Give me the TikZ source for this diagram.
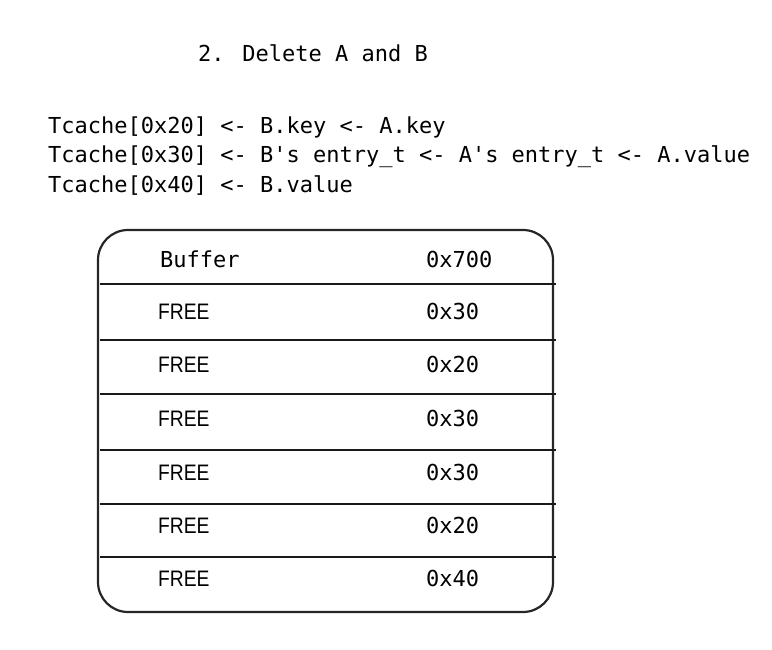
\documentclass[tikz,border=0pt]{standalone}
\usepackage{fontspec}
\newfontfamily\codefont{DejaVu Sans Mono}
\newfontfamily\helvfont[FakeStretch=0.86]{Liberation Sans}
\begin{document}
\begin{tikzpicture}[x=1pt,y=-1pt,
    code/.style={font=\codefont\fontsize{22}{26}\selectfont,anchor=base west,inner sep=0pt},
    freelbl/.style={font=\helvfont\fontsize{22.4}{26}\selectfont,anchor=base west,inner sep=0pt},
    rowsep/.style={line width=2.6pt,black!90}]
        \useasboundingbox (0,0) rectangle (772,650);
        \node[code] (title) at (198,62) {2. Delete A and B};
        \node[code] (tc20) at (48,134) {Tcache[0x20] <- B.key <- A.key};
        \node[code] (tc30) at (48,163) {Tcache[0x30] <- B's entry\_t <- A's entry\_t <- A.value};
        \node[code] (tc40) at (48,193) {Tcache[0x40] <- B.value};
        % heap chunks
        \draw[line width=2.2pt,black!85,rounded corners=30] (98,230) rectangle (553,612);
        \node[code] (buf) at (160,267) {Buffer};
        \node[code] (bufsz) at (426,267) {0x700};
        \foreach \n/\y/\s in {1/319/0x30,2/372/0x20,3/426/0x30,4/480/0x30,5/533/0x20,6/586/0x40}{
            \node[freelbl] (free\n) at (158,\y) {FREE};
            \node[code] (sz\n) at (426,\y) {\s};
        }
        \foreach \y in {284,340,394,450,504,557}
            \draw[rowsep] (100,\y) -- (556,\y);
    \end{tikzpicture}
\end{document}
